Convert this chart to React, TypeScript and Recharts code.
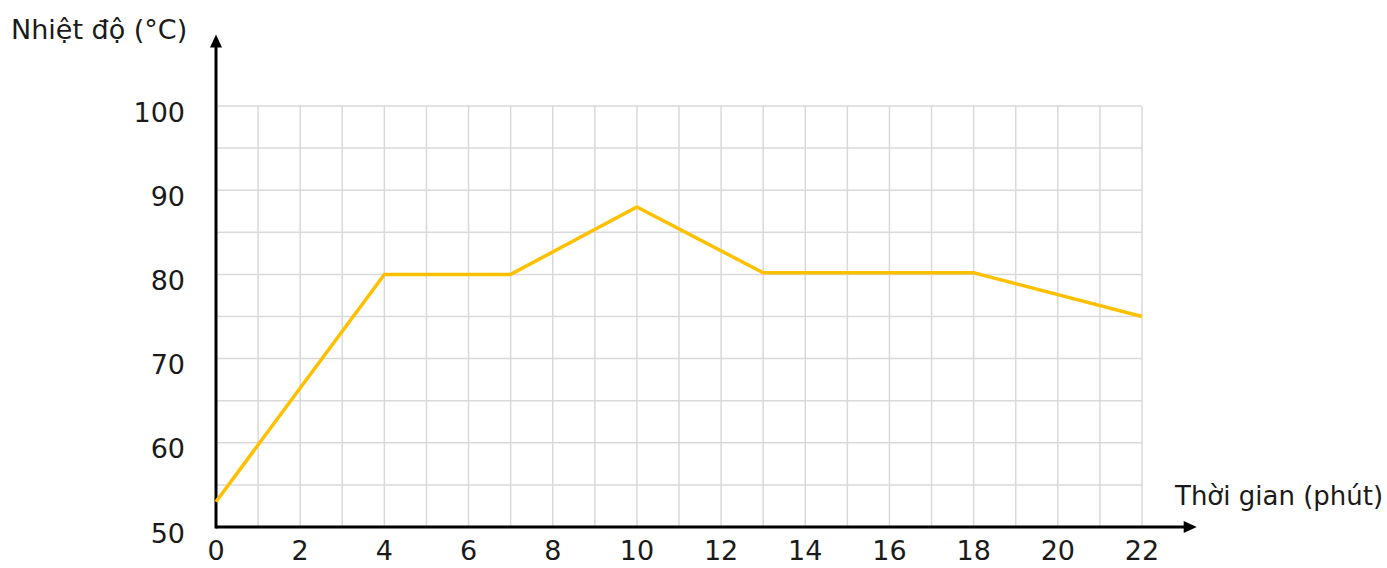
import React from "react";
import { LineChart, Line, XAxis, YAxis, CartesianGrid, ReferenceLine } from "recharts";

const minutes = [0, 4, 7, 10, 13, 18, 22];
const temperatures = [53, 80, 80, 88, 80.2, 80.2, 75];

const xTicks = [0, 1, 2, 3, 4, 5, 6, 7, 8, 9, 10, 11, 12, 13, 14, 15, 16, 17, 18, 19, 20, 21, 22];
const yTicks = [50, 55, 60, 65, 70, 75, 80, 85, 90, 95, 100];

const xTitle = "Thời gian (phút)";
const yTitle = "Nhiệt độ (°C)";

const data = minutes.map((m, i) => ({ minute: m, temp: temperatures[i] }));

const FONT = "'DejaVu Sans', sans-serif";
const TEXT = "#1a1a1a";

const XAxisArrow = (props: any) => {
  const { x1, y1, x2 } = props;
  return (
    <g>
      <line x1={x1} y1={y1} x2={x2 - 8} y2={y1} stroke="#000" strokeWidth={3} />
      <path d={`M${x2},${y1} L${x2 - 13},${y1 - 6} L${x2 - 13},${y1 + 6} Z`} fill="#000" />
      <text x={1175} y={496} dy="0.35em" fontSize={26} fontFamily={FONT} fill={TEXT}>
        {xTitle}
      </text>
    </g>
  );
};

const YAxisArrow = (props: any) => {
  const { x1, y1, y2 } = props;
  const top = Math.min(y1, y2);
  const bottom = Math.max(y1, y2);
  return (
    <g>
      <line x1={x1} y1={bottom + 1.5} x2={x1} y2={top + 8} stroke="#000" strokeWidth={3} />
      <path d={`M${x1},${top} L${x1 - 6},${top + 13} L${x1 + 6},${top + 13} Z`} fill="#000" />
      <text x={11} y={30} dy="0.35em" fontSize={27} fontFamily={FONT} fill={TEXT}>
        {yTitle}
      </text>
    </g>
  );
};

export default function App() {
  return (
    <div style={{ position: "absolute", left: 0, top: 0, background: "#fff" }}>
      <LineChart width={1387} height={568} data={data} margin={{ top: 106, right: 245, left: 156, bottom: 0 }}>
        <CartesianGrid stroke="#d9d9d9" strokeWidth={1.5} />
        <XAxis
          dataKey="minute"
          type="number"
          domain={[0, 22]}
          ticks={xTicks}
          interval={0}
          axisLine={false}
          tickLine={false}
          tickSize={0}
          tickMargin={14}
          height={41}
          tickFormatter={(v: number) => (v % 2 === 0 ? String(v) : "")}
          tick={{ fontSize: 27, fontFamily: FONT, fill: TEXT }}
        />
        <YAxis
          type="number"
          domain={[50, 100]}
          ticks={yTicks}
          interval={0}
          axisLine={false}
          tickLine={false}
          tickSize={0}
          tickMargin={31}
          width={60}
          tickFormatter={(v: number) => (v % 10 === 0 ? String(v) : "")}
          tick={{ fontSize: 27, fontFamily: FONT, fill: TEXT, dy: 6 }}
        />
        <ReferenceLine
          segment={[{ x: 0, y: 50 }, { x: 23.3, y: 50 }]}
          ifOverflow="visible"
          shape={XAxisArrow}
        />
        <ReferenceLine
          segment={[{ x: 0, y: 50 }, { x: 0, y: 108.5 }]}
          ifOverflow="visible"
          shape={YAxisArrow}
        />
        <Line
          type="linear"
          dataKey="temp"
          stroke="#ffc000"
          strokeWidth={3.5}
          dot={false}
          isAnimationActive={false}
        />
      </LineChart>
    </div>
  );
}
